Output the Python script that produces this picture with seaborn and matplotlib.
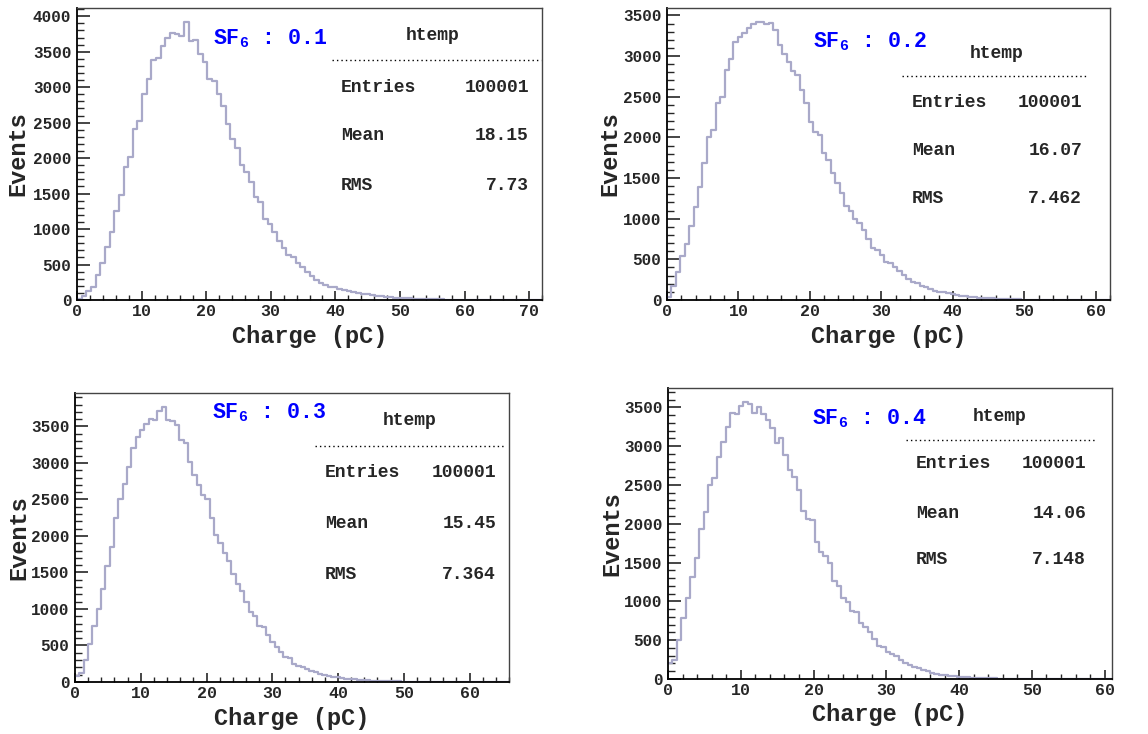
import numpy as np
import pandas as pd
import matplotlib
matplotlib.use("Agg")
import matplotlib.pyplot as plt
import seaborn as sns
from matplotlib.ticker import MultipleLocator
from matplotlib.lines import Line2D

# histogram contents, 100 bins each
counts_01 = [20, 50, 120, 190, 350, 520, 750, 960, 1260, 1480,
             1870, 2020, 2410, 2530, 2910, 3120, 3380, 3410, 3580, 3700,
             3770, 3750, 3720, 3920, 3650, 3670, 3470, 3360, 3110, 3080,
             2910, 2730, 2480, 2270, 2140, 1900, 1800, 1660, 1450, 1380,
             1140, 1070, 960, 830, 740, 640, 600, 520, 470, 400,
             340, 280, 245, 210, 190, 178, 160, 141, 127, 113,
             103, 89, 80, 70, 61, 52, 47, 40, 35, 30,
             25, 22, 18, 16, 14, 12, 10, 9, 8, 7,
             6, 5, 4, 4, 3, 3, 2, 2, 2, 1,
             1, 1, 1, 1, 0, 0, 0, 0, 0, 0]
counts_02 = [40, 170, 350, 535, 685, 915, 1140, 1390, 1690, 2000,
             2090, 2420, 2500, 2830, 2960, 3170, 3230, 3280, 3340, 3395,
             3420, 3420, 3390, 3410, 3320, 3140, 3030, 2930, 2820, 2770,
             2580, 2420, 2190, 2070, 2030, 1810, 1720, 1560, 1440, 1310,
             1150, 1100, 1000, 950, 860, 750, 635, 615, 555, 470,
             460, 410, 357, 308, 260, 225, 205, 172, 164, 131,
             115, 103, 98, 82, 74, 62, 55, 48, 42, 36,
             30, 26, 22, 19, 16, 14, 12, 10, 8, 7,
             6, 5, 4, 3, 3, 2, 2, 1, 1, 1,
             1, 0, 0, 0, 0, 0, 0, 0, 0, 0]
counts_03 = [80, 130, 300, 515, 770, 1000, 1270, 1590, 1850, 2250,
             2510, 2710, 2950, 3200, 3350, 3450, 3540, 3600, 3590, 3710,
             3770, 3590, 3580, 3520, 3320, 3270, 3020, 2840, 2700, 2560,
             2510, 2250, 2010, 1910, 1770, 1660, 1480, 1340, 1240, 1100,
             955, 910, 770, 750, 640, 545, 480, 410, 340, 330,
             250, 225, 205, 180, 145, 136, 114, 95, 82, 68,
             68, 55, 45, 40, 35, 30, 26, 22, 19, 16,
             14, 12, 10, 8, 7, 6, 5, 4, 3, 3,
             2, 2, 1, 1, 1, 1, 0, 0, 0, 0,
             0, 0, 0, 0, 0, 0, 0, 0, 0, 0]
counts_04 = [200, 245, 500, 790, 1040, 1310, 1560, 1930, 2155, 2500,
             2590, 2860, 3050, 3240, 3430, 3420, 3520, 3570, 3540, 3430,
             3510, 3420, 3330, 3230, 3040, 3100, 2885, 2690, 2605, 2430,
             2170, 2055, 2045, 1770, 1630, 1580, 1500, 1260, 1200, 1040,
             995, 870, 860, 720, 675, 610, 510, 425, 415, 350,
             320, 290, 245, 200, 180, 160, 137, 115, 107, 80,
             64, 55, 48, 40, 34, 28, 24, 20, 17, 14,
             12, 10, 8, 7, 6, 5, 4, 3, 3, 2,
             2, 1, 1, 1, 1, 0, 0, 0, 0, 0,
             0, 0, 0, 0, 0, 0, 0, 0, 0, 0]

x_max = [72, 62, 66, 61]
sf6 = ["0.1", "0.2", "0.3", "0.4"]
entries = ["100001", "100001", "100001", "100001"]
means = ["18.15", "16.07", "15.45", "14.06"]
rms = ["7.73", "7.462", "7.364", "7.148"]

all_counts = [counts_01, counts_02, counts_03, counts_04]

W, H = 1148, 734

sns.set_style("white")
plt.rcParams['font.family'] = ['Liberation Mono', 'DejaVu Sans']
plt.rcParams['font.weight'] = 'bold'
plt.rcParams['axes.labelweight'] = 'bold'
plt.rcParams['mathtext.fontset'] = 'custom'
plt.rcParams['mathtext.rm'] = 'Liberation Mono:bold'
plt.rcParams['mathtext.default'] = 'rm'

fig = plt.figure(figsize=(W / 100, H / 100), dpi=100)


def fx(x):
    return x / W


def fy(y):
    return 1 - y / H


# pixel boxes of the four frames: left, right, top, bottom
frames = [(77, 542, 8, 300), (667, 1110, 8, 300),
          (75, 509, 393, 682), (668, 1112, 388, 679)]
ylabel_x = [18, 610, 19, 612]
# SF6 label start (x, baseline y) and stat box layout in pixels
sf_pos = [(213, 44), (813, 47), (212, 418), (812, 424)]
stat = [
    # dot line x0, x1, y; htemp x, y; left x, right x; rows y
    (332, 541, 60, 433, 40, 341, 529, (92, 140, 190)),
    (902, 1088, 76, 997, 58, 912, 1082, (107, 155, 203)),
    (315, 504, 446, 410, 425, 325, 496, (477, 528, 579)),
    (906, 1097, 440, 1000, 421, 916, 1086, (468, 518, 564)),
]

line_color = '#a9a9c9'

for i in range(4):
    l, r, t, b = frames[i]
    ax = fig.add_axes([fx(l), fy(b), (r - l) / W, (b - t) / H])
    counts = np.array(all_counts[i], dtype=float)
    edges = np.linspace(0, x_max[i], len(counts) + 1)
    df = pd.DataFrame({"charge": (edges[:-1] + edges[1:]) / 2, "n": counts})
    sns.histplot(data=df, x="charge", weights="n", bins=list(edges), element='step',
                 fill=False, color=line_color, linewidth=1.6, ax=ax)
    ax.set_xlim(0, x_max[i])
    ax.set_ylim(0, counts.max() * 1.05)
    ax.xaxis.set_major_locator(MultipleLocator(10))
    ax.xaxis.set_minor_locator(MultipleLocator(2))
    ax.yaxis.set_major_locator(MultipleLocator(500))
    ax.yaxis.set_minor_locator(MultipleLocator(100))
    ax.tick_params(axis='x', which='major', direction='in', length=6.5, width=1.2,
                   labelsize=12, pad=3, bottom=True, top=False)
    ax.tick_params(axis='x', which='minor', direction='in', length=3.3, width=1.0,
                   bottom=True, top=False)
    ax.tick_params(axis='y', which='major', direction='in', length=9, width=1.2,
                   labelsize=11.5, pad=4, left=True, right=False)
    ax.tick_params(axis='y', which='minor', direction='in', length=4.8, width=1.0,
                   left=True, right=False)
    for lab in ax.get_xticklabels() + ax.get_yticklabels():
        lab.set_fontweight('bold')
    for side in ['left', 'bottom']:
        ax.spines[side].set_color('black')
        ax.spines[side].set_linewidth(1.3)
    for side in ['top', 'right']:
        ax.spines[side].set_color('#444444')
        ax.spines[side].set_linewidth(1.0)

    ax.set_xlabel("Charge (pC)", fontsize=17, fontweight='bold', va='center')
    ax.xaxis.set_label_coords(0.5, -36 / (b - t))
    ax.set_ylabel("Events", fontsize=17, fontweight='bold', va='center')
    ax.yaxis.set_label_coords(-(l - ylabel_x[i]) / (r - l), 0.5)

    sx, sy = sf_pos[i]
    fig.text(fx(sx), fy(sy), r"SF$_{6}$ : " + sf6[i], color='#0000ff',
             fontsize=15.5, fontweight='bold', ha='left', va='baseline')

    dx0, dx1, dy, hx, hy, lx, rx, rows = stat[i]
    fig.add_artist(Line2D([fx(dx0), fx(dx1)], [fy(dy), fy(dy)],
                          transform=fig.transFigure, color='black',
                          linewidth=1.0, linestyle=(0, (1, 2.2))))
    fig.text(fx(hx), fy(hy), "htemp", fontsize=13, fontweight='bold',
             ha='center', va='baseline')
    names = ["Entries", "Mean", "RMS"]
    vals = [entries[i], means[i], rms[i]]
    for k in range(3):
        fig.text(fx(lx), fy(rows[k]), names[k], fontsize=13,
                 fontweight='bold', ha='left', va='baseline')
        fig.text(fx(rx), fy(rows[k]), vals[k], fontsize=13,
                 fontweight='bold', ha='right', va='baseline')

fig.savefig("out.png", dpi=100)
